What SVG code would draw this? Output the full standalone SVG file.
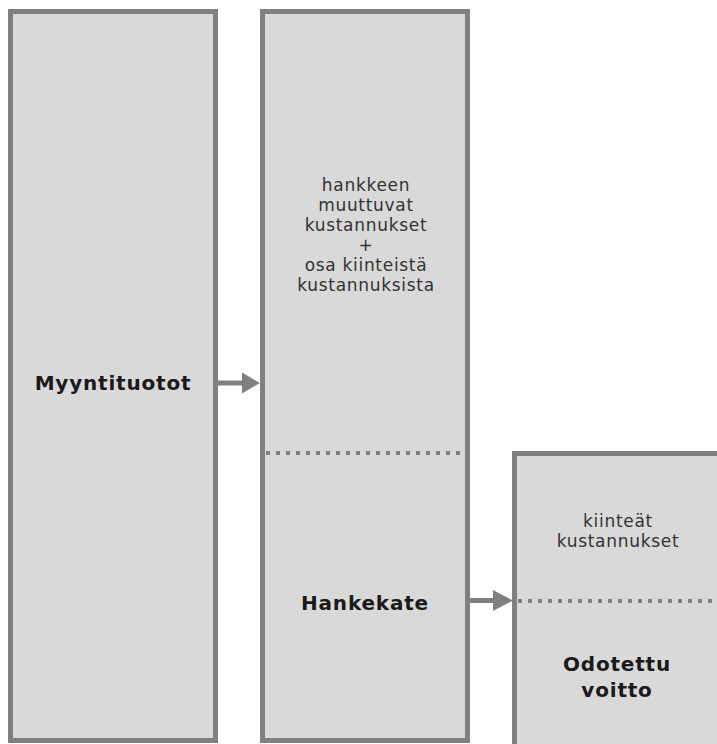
<svg xmlns="http://www.w3.org/2000/svg" width="717" height="744" viewBox="0 0 717 744">
<style>
.box{fill:#d9d9d9;stroke:#808080;stroke-width:5}
.dot{fill:none;stroke:#808080;stroke-width:4;stroke-dasharray:4 6}
.conn{fill:none;stroke:#808080;stroke-width:5}
.head{fill:#808080}
.b{font-family:"DejaVu Sans",sans-serif;font-weight:bold;font-size:20px;letter-spacing:0.8px;fill:#1a1a1a;text-anchor:middle}
.s{font-family:"DejaVu Sans",sans-serif;font-size:17px;letter-spacing:0.7px;fill:#333;text-anchor:middle}
</style>
<rect width="717" height="744" fill="#ffffff"/>
<g id="myyntituotot">
<rect class="box" x="10.5" y="11.5" width="205" height="729"/>
<text class="b" x="113" y="390">Myyntituotot</text>
</g>
<g id="hanke">
<rect class="box" x="262.5" y="11.5" width="205" height="729"/>
<line class="dot" x1="266" y1="453" x2="465" y2="453"/>
<text class="s" x="366" y="191">hankkeen</text>
<text class="s" x="366" y="211">muuttuvat</text>
<text class="s" x="366" y="231">kustannukset</text>
<text class="s" x="366" y="251">+</text>
<text class="s" x="366" y="271">osa kiinteistä</text>
<text class="s" x="366" y="291">kustannuksista</text>
<text class="b" x="365" y="610">Hankekate</text>
</g>
<g id="voitto">
<rect class="box" x="514.5" y="453.5" width="205" height="320"/>
<line class="dot" x1="518" y1="601" x2="717" y2="601"/>
<text class="s" x="618" y="527">kiinteät</text>
<text class="s" x="618" y="547">kustannukset</text>
<text class="b" x="617" y="671">Odotettu</text>
<text class="b" x="617" y="697">voitto</text>
</g>
<g id="connectors">
<line class="conn" x1="218" y1="383" x2="244" y2="383"/>
<polygon class="head" points="242,372.5 260,383 242,393.5"/>
<line class="conn" x1="470" y1="600.5" x2="495" y2="600.5"/>
<polygon class="head" points="493,590 513,600.5 493,611"/>
</g>
</svg>
